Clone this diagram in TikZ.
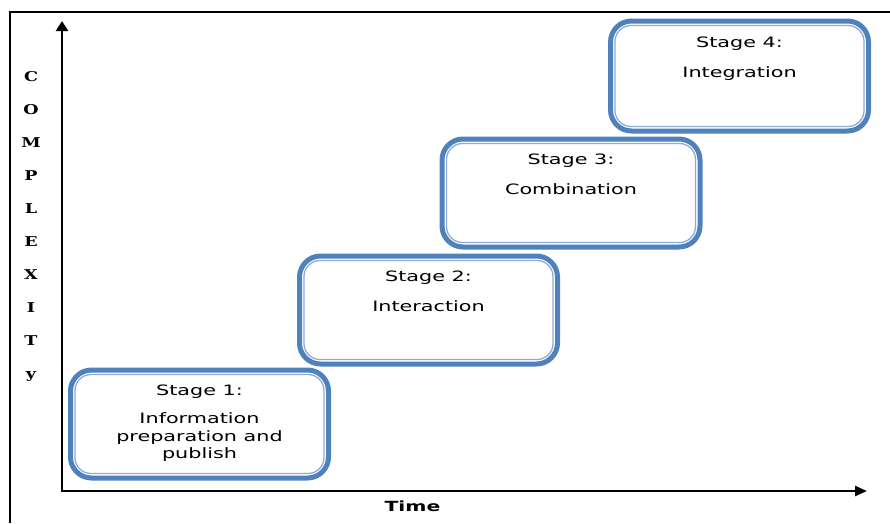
\documentclass[tikz,border=0pt]{standalone}
\usepackage{fontspec}
\usetikzlibrary{arrows.meta}
\newfontfamily\stagefont[FakeStretch=1.45]{DejaVu Sans}
\newfontfamily\cplxfont[FakeStretch=1.3]{DejaVu Serif}
\definecolor{boxblue}{RGB}{79,129,189}
\definecolor{boxrim}{RGB}{141,172,212}
\begin{document}
\begin{tikzpicture}[x=1pt,y=-1pt,
  stagebox/.style={draw=boxblue, line width=5pt, fill=white, rounded corners=21pt,
    minimum width=258pt, minimum height=108pt, inner sep=0pt, outer sep=0pt},
  innerrim/.style={draw=boxrim, line width=1.3pt, rounded corners=16pt},
  stagetext/.style={font=\stagefont\fontsize{14.3}{17.5}\selectfont, align=center,
    inner sep=0pt, anchor=base, text=black},
  axislines/.style={line width=2.5pt, line join=miter,
    {Triangle[length=10pt,width=12pt]}-{Triangle[length=12pt,width=10pt]}},
  frameline/.style={line width=1.8pt}
]
\useasboundingbox (0,0) rectangle (890,523);

% outer frame (left and top edges)
\draw[frameline] (10,523) -- (10,12) -- (890,12);

% axes
\coordinate (ytop) at (62,21);
\coordinate (origin) at (62,491);
\coordinate (xend) at (867,491);
\draw[axislines] (ytop) -- (origin) -- (xend);

% axis labels (a multi-line node sits on the baseline of its last line)
\node[font=\cplxfont\bfseries\fontsize{13.5}{32.9}\selectfont, align=center,
  inner sep=0pt, anchor=base] (cplx) at (31,378) {C\\O\\M\\P\\L\\E\\X\\I\\T\\y};
\node[font=\stagefont\bfseries\fontsize{14}{17}\selectfont, inner sep=0pt,
  anchor=base] (timelbl) at (412.5,511) {Time};

% stage boxes
\node[stagebox] (s1) at (199.5,424) {};
\draw[innerrim] ([shift={(4.5,4.5)}]s1.north west) rectangle ([shift={(-4.5,-4.5)}]s1.south east);
\node[stagetext] (t1) at ([shift={(0,25)}]s1.north) {Stage 1:};
\node[stagetext] (d1) at ([shift={(0,88.5)}]s1.north) {Information\\preparation and\\publish};

\node[stagebox] (s2) at (428.5,310) {};
\draw[innerrim] ([shift={(4.5,4.5)}]s2.north west) rectangle ([shift={(-4.5,-4.5)}]s2.south east);
\node[stagetext] (t2) at ([shift={(0,25.5)}]s2.north) {Stage 2:};
\node[stagetext] (d2) at ([shift={(0,55.5)}]s2.north) {Interaction};

\node[stagebox] (s3) at (571,193) {};
\draw[innerrim] ([shift={(4.5,4.5)}]s3.north west) rectangle ([shift={(-4.5,-4.5)}]s3.south east);
\node[stagetext] (t3) at ([shift={(0,25.5)}]s3.north) {Stage 3:};
\node[stagetext] (d3) at ([shift={(0,55.5)}]s3.north) {Combination};

\node[stagebox, minimum height=110pt] (s4) at (739.5,76) {};
\draw[innerrim] ([shift={(4.5,4.5)}]s4.north west) rectangle ([shift={(-4.5,-4.5)}]s4.south east);
\node[stagetext] (t4) at ([shift={(0,26)}]s4.north) {Stage 4:};
\node[stagetext] (d4) at ([shift={(0,56)}]s4.north) {Integration};
\end{tikzpicture}
\end{document}
